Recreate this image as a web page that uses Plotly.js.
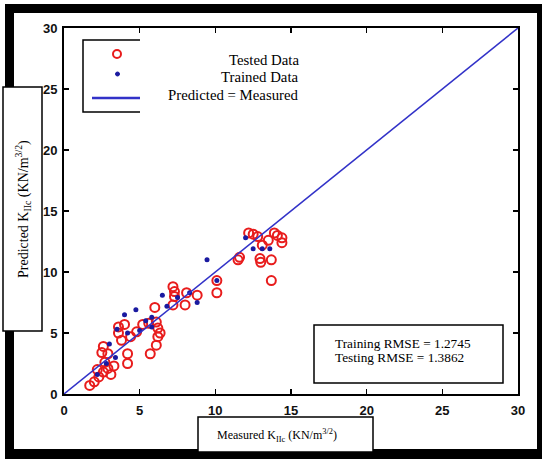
<!DOCTYPE html>
<html>
<head>
<meta charset="utf-8">
<script src="https://cdn.plot.ly/plotly-3.0.1.min.js"></script>
<style>html,body{margin:0;padding:0;background:#fff;}#chart{width:542px;height:459px;}</style>
</head>
<body>
<div id="chart"></div>
<script>
// ---- data ----
const testedX = [1.7, 2.0, 2.3, 2.6, 2.9, 3.3, 2.7, 2.5, 2.9, 2.6, 3.1, 2.2, 4.2, 4.2, 3.6, 3.6, 4.0, 3.8, 4.4, 4.8, 5.2, 5.6, 6.0, 6.2, 6.2, 6.1, 5.7, 6.35, 6.1, 7.2, 7.3, 7.3, 8.1, 8.8, 8.0, 7.2, 10.1, 10.1, 11.5, 11.6, 12.2, 12.5, 12.8, 13.1, 12.95, 13.0, 13.7, 13.7, 13.9, 14.1, 14.4, 14.4, 13.5];
const testedY = [0.7, 1.0, 1.4, 1.8, 2.1, 2.3, 2.6, 3.4, 3.3, 3.9, 1.6, 2.0, 2.5, 3.3, 5.0, 5.5, 5.7, 4.4, 4.7, 5.1, 5.7, 5.8, 7.1, 5.4, 4.7, 4.0, 3.3, 5.0, 5.9, 8.8, 8.4, 8.0, 8.3, 8.1, 7.3, 7.3, 9.3, 8.3, 11.0, 11.2, 13.2, 13.1, 12.9, 12.2, 11.1, 10.8, 11.0, 9.3, 13.2, 13.0, 12.8, 12.4, 12.6];
const trainedX = [2.2, 2.8, 3.4, 3.0, 4.0, 4.75, 4.2, 5.0, 5.8, 5.8, 6.5, 6.8, 8.3, 8.8, 7.5, 9.45, 10.1, 12.5, 13.1, 13.6, 12.0, 5.4, 3.5];
const trainedY = [1.6, 2.5, 3.0, 4.1, 6.5, 6.9, 5.0, 5.2, 5.5, 6.3, 8.1, 7.2, 8.3, 7.5, 7.9, 11.0, 9.3, 11.9, 11.9, 11.9, 12.8, 6.0, 5.3];
const lineX = [0, 30];
const lineY = [0, 30];
const tickVals = [0, 5, 10, 15, 20, 25, 30];
const legendLabels = ["Tested Data", "Trained Data", "Predicted = Measured"];
const xTitle = "Measured K<sub>IIc</sub> (KN/m<sup>3/2</sup>)";
const yTitle = "Predicted K<sub>IIc</sub> (KN/m<sup>3/2</sup>)";
const rmseLines = ["Training RMSE = 1.2745", "Testing RMSE = 1.3862"];

// ---- pixel helpers (plot area: x 64..518, y 28..394) ----
const L = 64, R = 518, T = 28, B = 394;
const px = p => (p - L) / (R - L);
const py = p => (B - p) / (B - T);
const serif = "Liberation Serif, Times New Roman, serif";

const traces = [
  {x: testedX, y: testedY, type: 'scatter', mode: 'markers', name: legendLabels[0],
   marker: {symbol: 'circle-open', size: 9, color: '#e81c1c', line: {width: 2, color: '#e81c1c'}}},
  {x: trainedX, y: trainedY, type: 'scatter', mode: 'markers', name: legendLabels[1],
   marker: {symbol: 'circle', size: 5, color: '#1a1aa0'}},
  {x: lineX, y: lineY, type: 'scatter', mode: 'lines', name: legendLabels[2],
   line: {color: '#3232c8', width: 1.5}}
];

const rect = (x0, y0, x1, y1, w, fill) => ({type: 'rect', xref: 'paper', yref: 'paper',
  x0: px(x0), x1: px(x1), y0: py(y1), y1: py(y0),
  line: {color: 'black', width: w}, fillcolor: fill || 'rgba(0,0,0,0)', layer: 'above'});
const bar = (x0, y0, x1, y1) => ({type: 'rect', xref: 'paper', yref: 'paper',
  x0: px(x0), x1: px(x1), y0: py(y1), y1: py(y0), line: {width: 0}, fillcolor: 'black', layer: 'above'});

const shapes = [
  // outer thick frame
  bar(5, 4, 542, 13), bar(5, 4, 14, 459), bar(5, 449, 542, 459), bar(537, 4, 542, 459),
  // legend box and white cover
  rect(83, 40, 290, 112, 1.5, 'white'),
  {type: 'rect', xref: 'paper', yref: 'paper', x0: px(140), x1: px(304), y0: py(115), y1: py(37), line: {width: 0}, fillcolor: 'white', layer: 'above'},
  // legend symbols
  {type: 'circle', xref: 'paper', yref: 'paper', x0: px(113), x1: px(121), y0: py(58), y1: py(50), line: {color: '#e81c1c', width: 2}, layer: 'above'},
  {type: 'circle', xref: 'paper', yref: 'paper', x0: px(115.5), x1: px(119.5), y0: py(76), y1: py(72), line: {color: '#1a1aa0', width: 1}, fillcolor: '#1a1aa0', layer: 'above'},
  {type: 'line', xref: 'paper', yref: 'paper', x0: px(92), x1: px(140), y0: py(98), y1: py(98), line: {color: '#3232c8', width: 2.5}, layer: 'above'},
  // axis title boxes
  rect(3, 87, 42, 331, 1.5, 'white'),
  rect(198, 417, 373, 452, 1.5, 'white'),
  // RMSE box
  rect(314, 325, 503, 383, 1.5, 'white')
];

const ann = (x, y, text, size, xanchor, angle) => ({xref: 'paper', yref: 'paper', x: px(x), y: py(y),
  text: text, showarrow: false, xanchor: xanchor || 'center', yanchor: 'middle', align: 'left',
  textangle: angle || 0, font: {family: serif, size: size, color: 'black'}});

const annotations = [
  ann(301, 60, legendLabels[0], 14.8, 'right'),
  ann(301, 77, legendLabels[1], 14.8, 'right'),
  ann(301, 95, legendLabels[2], 14.8, 'right'),
  ann(23, 209, yTitle, 14, 'center', -90),
  ann(277, 436, xTitle, 12, 'center'),
  ann(333, 343, rmseLines[0], 13.3, 'left'),
  ann(333, 357, rmseLines[1], 13.3, 'left')
];

const axisCommon = {
  range: [0, 30], tickvals: tickVals, ticktext: tickVals.map(String),
  showgrid: false, zeroline: false, showline: true, linecolor: 'black', linewidth: 2,
  mirror: 'ticks', ticks: 'inside', ticklen: 5, tickwidth: 1.5, tickcolor: 'black',
  tickfont: {family: 'Liberation Sans Narrow, Liberation Sans, Arial, sans-serif', size: 13, weight: 'bold', color: '#111'},
  fixedrange: true
};

const layout = {
  width: 542, height: 459,
  margin: {l: L, r: 542 - R, t: T, b: 459 - B, pad: 0},
  paper_bgcolor: 'white', plot_bgcolor: 'white',
  showlegend: false,
  xaxis: Object.assign({}, axisCommon, {ticklabelstandoff: 3}),
  yaxis: Object.assign({}, axisCommon, {ticklabelstandoff: 2}),
  shapes: shapes,
  annotations: annotations
};

Plotly.newPlot('chart', traces, layout, {staticPlot: true, displayModeBar: false});
</script>
</body>
</html>
